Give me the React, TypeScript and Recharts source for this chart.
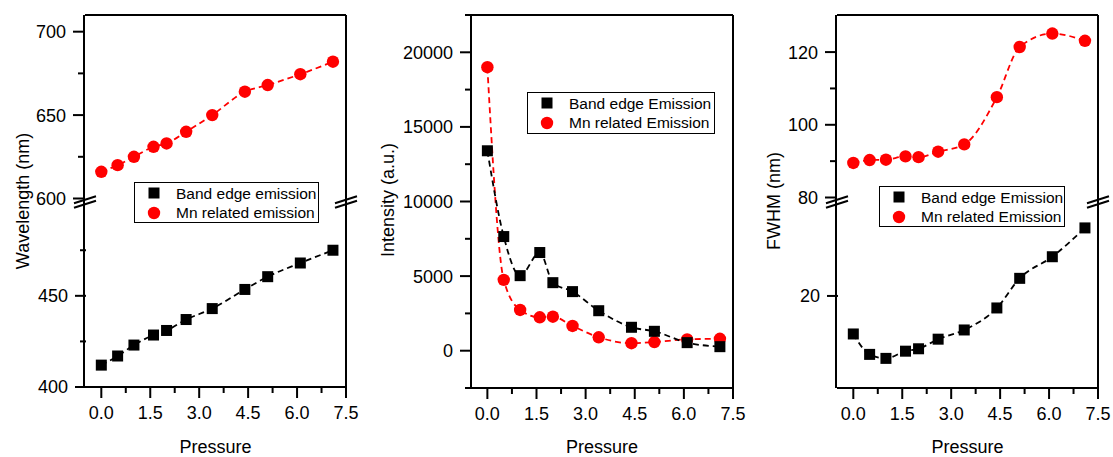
import { ComposedChart, Line, XAxis, YAxis, Legend } from "recharts";

const FONT = '"Liberation Sans", Arial, sans-serif';
const RED = "#ff0000";
const BLACK = "#000000";

// pressure points shared by all three panels
const pressure = [0, 0.5, 1.0, 1.6, 2.0, 2.6, 3.4, 4.4, 5.1, 6.1, 7.1];

// wavelength (nm)
const bandEdgeWavelength = [412, 417, 423, 428.5, 431, 437, 443, 453.5, 460.5, 468, 475];
const mnWavelength = [616, 620, 625, 631, 633, 640, 650, 664, 668, 674.5, 682];

// intensity (a.u.)
const bandEdgeIntensity = [13400, 7650, 5030, 6580, 4560, 3960, 2680, 1570, 1300, 540, 270];
const mnIntensity = [19000, 4750, 2730, 2240, 2280, 1660, 900, 500, 580, 760, 800];

// FWHM (nm)
const bandEdgeFwhm = [15.25, 12.7, 12.2, 13.1, 13.4, 14.6, 15.75, 18.5, 22.2, 24.9, 28.5];
const mnFwhm = [89.5, 90.3, 90.4, 91.3, 91.1, 92.6, 94.6, 107.6, 121.4, 125.1, 123.1];

// ticks
const pressureTicks = [0, 0.75, 1.5, 2.25, 3, 3.75, 4.5, 5.25, 6, 6.75, 7.5];
const pressureLabels = [0, 1.5, 3, 4.5, 6, 7.5];
const wlUpperTicks = [600, 625, 650, 675, 700];
const wlUpperLabels = [600, 650, 700];
const wlLowerTicks = [400, 425, 450, 475];
const wlLowerLabels = [400, 450];
const intensityTicks = [-2500, 0, 2500, 5000, 7500, 10000, 12500, 15000, 17500, 20000, 22500];
const intensityLabels = [0, 5000, 10000, 15000, 20000];
const fwhmUpperTicks = [80, 90, 100, 110, 120];
const fwhmUpperLabels = [80, 100, 120];
const fwhmLowerTicks = [20];
const fwhmLowerLabels = [20];

const wavelengthData = pressure.map((p, i) => ({ p, band: bandEdgeWavelength[i], mn: mnWavelength[i] }));
const intensityData = pressure.map((p, i) => ({ p, band: bandEdgeIntensity[i], mn: mnIntensity[i] }));
const fwhmData = pressure.map((p, i) => ({ p, band: bandEdgeFwhm[i], mn: mnFwhm[i] }));

const XTick = (props: any) => {
  const { x, y, payload } = props;
  const major = pressureLabels.includes(payload.value);
  return (
    <g>
      <line x1={x} x2={x} y1={y} y2={y + (major ? 11 : 6)} stroke={BLACK} strokeWidth={2} />
      {major && (
        <text x={x} y={y + 32} textAnchor="middle" fontSize={18} fontFamily={FONT} fill={BLACK}>
          {payload.value.toFixed(1)}
        </text>
      )}
    </g>
  );
};

// the outer of the two stacked left axes sits 1px left of the plot, shift = 1 brings it back
const yTick = (labels: number[], shift = 0) => (props: any) => {
  const { y, payload } = props;
  const x = props.x + shift;
  const major = labels.includes(payload.value);
  return (
    <g>
      <line x1={x} x2={x - (major ? 11 : 6)} y1={y} y2={y} stroke={BLACK} strokeWidth={2} />
      {major && (
        <text x={x - 18} y={y} dy="0.36em" textAnchor="end" fontSize={18} fontFamily={FONT} fill={BLACK}>
          {payload.value}
        </text>
      )}
    </g>
  );
};

const YTitle = ({ tx, ty, title }: any) => (
  <text
    x={tx}
    y={ty}
    transform={`rotate(-90 ${tx} ${ty})`}
    textAnchor="middle"
    dominantBaseline="central"
    fontSize={18}
    fontFamily={FONT}
    fill={BLACK}
  >
    {title}
  </text>
);

const circleDot = (props: any) => (
  <circle key={`c${props.index}`} cx={props.cx} cy={props.cy} r={6.2} fill={RED} />
);
const squareDot = (props: any) => (
  <rect key={`s${props.index}`} x={props.cx - 5.5} y={props.cy - 5.5} width={11} height={11} fill={BLACK} />
);

const LegendBox = ({ labels, width, height }: { labels: string[]; width: number; height: number }) => (
  <div
    style={{
      position: "relative",
      width,
      height,
      border: `1.5px solid ${BLACK}`,
      boxSizing: "border-box",
      background: "#fff",
      fontFamily: FONT,
      fontSize: 15.5,
      color: BLACK,
    }}
  >
    {labels.map((label, i) => {
      const cy = i === 0 ? 10 : 29.5;
      return (
        <div key={label}>
          <svg width={14} height={14} style={{ position: "absolute", left: 12, top: cy - 7 }}>
            {i === 0 ? <rect x={1.5} y={1.5} width={11} height={11} fill={BLACK} /> : <circle cx={7} cy={7} r={6.2} fill={RED} />}
          </svg>
          <div style={{ position: "absolute", left: 41, top: cy - 9.5, lineHeight: "19px", whiteSpace: "nowrap" }}>{label}</div>
        </div>
      );
    })}
  </div>
);

const frameLine = { stroke: BLACK, strokeWidth: 2 };

const breakMarks = [
  { x: 85, y: 202 },
  { x: 346, y: 202 },
  { x: 837, y: 202 },
  { x: 1098, y: 202 },
];

// bottom axis plus the top / right frame lines
const commonX = (height: number) => [
  <XAxis
    key="bottom"
    dataKey="p"
    type="number"
    domain={[-0.5, 7.5]}
    allowDataOverflow
    ticks={pressureTicks}
    tick={XTick}
    tickLine={false}
    tickSize={0}
    tickMargin={0}
    height={height}
    axisLine={frameLine}
    interval={0}
    label={{ value: "Pressure", position: "insideBottom", offset: 0, fontSize: 18, fill: BLACK, fontFamily: FONT }}
  />,
  <XAxis
    key="top"
    xAxisId="top"
    orientation="top"
    type="number"
    domain={[-0.5, 7.5]}
    height={1}
    tick={false}
    tickLine={false}
    axisLine={frameLine}
  />,
  <YAxis
    key="right"
    yAxisId="frame"
    orientation="right"
    type="number"
    domain={[0, 1]}
    width={1}
    tick={false}
    tickLine={false}
    axisLine={frameLine}
  />,
];

export default function App() {
  return (
    <div style={{ position: "absolute", left: 0, top: 0, width: 1113, height: 457, background: "#fff", fontFamily: FONT }}>
      {/* Wavelength panel (broken axis) */}
      <div style={{ position: "absolute", left: 0, top: 0 }}>
        <ComposedChart width={370} height={457} data={wavelengthData} margin={{ top: 14, right: 23, left: 83, bottom: 4 }}>
          {commonX(66)}
          <YAxis
            yAxisId="upper"
            type="number"
            domain={[487, 710]}
            allowDataOverflow
            ticks={wlUpperTicks}
            tick={yTick(wlUpperLabels)}
            tickLine={false}
            tickSize={0}
            tickMargin={0}
            width={1}
            interval={0}
            axisLine={frameLine}
          />
          <YAxis
            yAxisId="lower"
            type="number"
            domain={[400, 604]}
            allowDataOverflow
            ticks={wlLowerTicks}
            tick={yTick(wlLowerLabels, 1)}
            tickLine={false}
            tickSize={0}
            tickMargin={0}
            width={1}
            interval={0}
            axisLine={false}
            label={<YTitle tx={23} ty={201} title="Wavelength (nm)" />}
          />
          <Line yAxisId="upper" dataKey="mn" name="Mn related emission" type="monotone" stroke={RED} strokeWidth={1.8} strokeDasharray="6 4" dot={circleDot} activeDot={false} isAnimationActive={false} />
          <Line yAxisId="lower" dataKey="band" name="Band edge emission" type="monotone" stroke={BLACK} strokeWidth={1.8} strokeDasharray="6 4" dot={squareDot} activeDot={false} isAnimationActive={false} />
          <Legend
            layout="vertical"
            align="center"
            verticalAlign="middle"
            wrapperStyle={{ left: 134, top: 182, width: 185 }}
            content={() => <LegendBox labels={["Band edge emission", "Mn related emission"]} width={185} height={41} />}
          />
        </ComposedChart>
      </div>

      {/* Intensity panel */}
      <div style={{ position: "absolute", left: 370, top: 0 }}>
        <ComposedChart width={385} height={457} data={intensityData} margin={{ top: 14, right: 21, left: 100, bottom: 4 }}>
          {commonX(65)}
          <YAxis
            type="number"
            domain={[-2500, 22500]}
            allowDataOverflow
            ticks={intensityTicks}
            tick={yTick(intensityLabels)}
            tickLine={false}
            tickSize={0}
            tickMargin={0}
            width={1}
            interval={0}
            axisLine={frameLine}
            label={<YTitle tx={18} ty={200} title="Intensity (a.u.)" />}
          />
          <Line dataKey="mn" name="Mn related Emission" type="monotone" stroke={RED} strokeWidth={1.8} strokeDasharray="6 4" dot={circleDot} activeDot={false} isAnimationActive={false} />
          <Line dataKey="band" name="Band edge Emission" type="monotone" stroke={BLACK} strokeWidth={1.8} strokeDasharray="6 4" dot={squareDot} activeDot={false} isAnimationActive={false} />
          <Legend
            layout="vertical"
            align="center"
            verticalAlign="middle"
            wrapperStyle={{ left: 157, top: 92, width: 188 }}
            content={() => <LegendBox labels={["Band edge Emission", "Mn related Emission"]} width={188} height={42} />}
          />
        </ComposedChart>
      </div>

      {/* FWHM panel (broken axis) */}
      <div style={{ position: "absolute", left: 740, top: 0 }}>
        <ComposedChart width={373} height={457} data={fwhmData} margin={{ top: 14, right: 14, left: 95, bottom: 4 }}>
          {commonX(65)}
          <YAxis
            yAxisId="upper"
            type="number"
            domain={[27.6, 130.2]}
            allowDataOverflow
            ticks={fwhmUpperTicks}
            tick={yTick(fwhmUpperLabels)}
            tickLine={false}
            tickSize={0}
            tickMargin={0}
            width={1}
            interval={0}
            axisLine={frameLine}
          />
          <YAxis
            yAxisId="lower"
            type="number"
            domain={[8.5, 55.1]}
            allowDataOverflow
            ticks={fwhmLowerTicks}
            tick={yTick(fwhmLowerLabels, 1)}
            tickLine={false}
            tickSize={0}
            tickMargin={0}
            width={1}
            interval={0}
            axisLine={false}
            label={<YTitle tx={34} ty={201} title="FWHM (nm)" />}
          />
          <Line yAxisId="upper" dataKey="mn" name="Mn related Emission" type="monotone" stroke={RED} strokeWidth={1.8} strokeDasharray="6 4" dot={circleDot} activeDot={false} isAnimationActive={false} />
          <Line yAxisId="lower" dataKey="band" name="Band edge Emission" type="monotone" stroke={BLACK} strokeWidth={1.8} strokeDasharray="6 4" dot={squareDot} activeDot={false} isAnimationActive={false} />
          <Legend
            layout="vertical"
            align="center"
            verticalAlign="middle"
            wrapperStyle={{ left: 139, top: 186, width: 186 }}
            content={() => <LegendBox labels={["Band edge Emission", "Mn related Emission"]} width={186} height={41} />}
          />
        </ComposedChart>
      </div>

      {/* axis break marks */}
      <svg width={1113} height={457} style={{ position: "absolute", left: 0, top: 0, pointerEvents: "none" }}>
        {breakMarks.map((m, i) => (
          <g key={i} stroke={BLACK} strokeWidth={2}>
            <line x1={m.x - 11} y1={m.y - 2.2 + 3.5} x2={m.x + 11} y2={m.y - 2.2 - 3.5} />
            <line x1={m.x - 11} y1={m.y + 2.2 + 3.5} x2={m.x + 11} y2={m.y + 2.2 - 3.5} />
          </g>
        ))}
      </svg>
    </div>
  );
}
